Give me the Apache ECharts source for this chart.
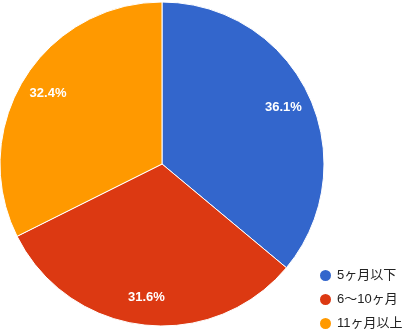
<!DOCTYPE html>
<html><head><meta charset="utf-8">
<script src="https://cdn.jsdelivr.net/npm/echarts@6/dist/echarts.min.js"></script>
<style>html,body{margin:0;padding:0;background:#fff}#c{width:406px;height:329px}</style>
</head><body><div id="c"></div>
<script>
var categories = ['5ヶ月以下', '6～10ヶ月', '11ヶ月以上'];
var values = [36.1, 31.6, 32.4];
var colors = ['#3366cc', '#dc3912', '#ff9900'];

var data = categories.map(function (n, i) { return { name: n, value: values[i] }; });
var chart = echarts.init(document.getElementById('c'));
chart.setOption({
  animation: false,
  color: colors,
  legend: {
    orient: 'vertical', left: 318, top: 268, height: 80, padding: 0, icon: 'circle',
    itemWidth: 13, itemHeight: 13, itemGap: 9,
    textStyle: { fontSize: 13, color: '#222', fontFamily: 'Liberation Sans, Noto Sans CJK JP', lineHeight: 13 },
    data: categories
  },
  series: [{
    type: 'pie', center: [162, 164], radius: [0, 162], startAngle: 90, clockwise: true,
    label: { show: false }, labelLine: { show: false },
    itemStyle: { borderColor: '#fff', borderWidth: 1 },
    data: data
  }, {
    type: 'pie', center: [162, 164], radius: [100, 162], startAngle: 90, clockwise: true,
    silent: true, legendHoverLink: false,
    itemStyle: { color: 'transparent' },
    label: { show: true, position: 'inside', color: '#fff', fontSize: 13, fontWeight: 'bold',
      fontFamily: 'Liberation Sans, Arial',
      formatter: function (p) { return p.value.toFixed(1) + '%'; } },
    labelLine: { show: false },
    data: data.map(function (d) { return { name: d.name + ' ', value: d.value }; })
  }]
});
</script></body></html>
